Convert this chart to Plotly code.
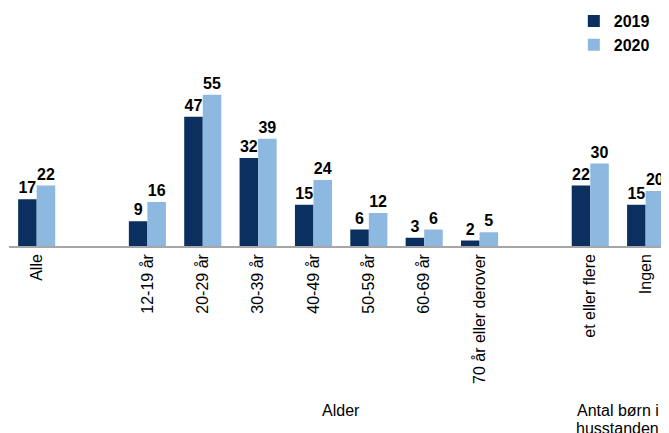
import plotly.graph_objects as go

categories = ["Alle", " ", "12-19 år", "20-29 år", "30-39 år", "40-49 år", "50-59 år",
              "60-69 år", "70 år eller derover", "  ", "et eller flere", "Ingen"]
v2019 = [17, None, 9, 47, 32, 15, 6, 3, 2, None, 22, 15]
v2020 = [22, None, 16, 55, 39, 24, 12, 6, 5, None, 30, 20]
series_names = ["2019", "2020"]
colors = ["#0B2F5F", "#8DB8E0"]
group_labels = [["Alder"], ["Antal børn i", "husstanden"]]
group_pos = [5.5, 10.5]

FONT = "Liberation Sans, Arial, sans-serif"
W, H = 661, 425
T, B = 73, 187
H_PLOT = H - T - B

fig = go.Figure()
for name, vals, col in zip(series_names, [v2019, v2020], colors):
    fig.add_trace(go.Bar(
        x=categories, y=vals, name=name, marker_color=col,
        marker_line_width=0,
        text=[("" if v is None else str(v)) for v in vals],
        textposition="outside", cliponaxis=False, constraintext="none",
        textfont=dict(family=FONT, size=16, color="#000000", weight="bold"),
    ))

for lines, pos in zip(group_labels, group_pos):
    for i, line in enumerate(lines):
        fig.add_annotation(x=pos, y=-(164 + 18 * i) / H_PLOT, xref="x", yref="paper",
                           text=line, showarrow=False, xanchor="center", yanchor="middle",
                           font=dict(family=FONT, size=16, color="#000000"))

fig.update_layout(
    width=W, height=H,
    margin=dict(l=1.35, r=4.4, t=T, b=B, pad=0, autoexpand=False),
    paper_bgcolor="white", plot_bgcolor="white",
    barmode="group", bargap=0.33, bargroupgap=0,
    showlegend=True,
    legend=dict(x=0.856, y=(T + 4) / H_PLOT + 1, xref="container", yref="paper",
                xanchor="left", yanchor="top",
                font=dict(family=FONT, size=16, color="#000000", weight="bold"),
                bgcolor="rgba(0,0,0,0)", tracegroupgap=0, itemwidth=30),
    xaxis=dict(type="category", categoryorder="array", categoryarray=categories,
               range=[-0.5, 11.35], tickangle=-90,
               tickfont=dict(family=FONT, size=16, color="#000000"),
               showline=True, linecolor="#A6A6A6", linewidth=1.5,
               showgrid=False, ticks="", fixedrange=True),
    yaxis=dict(range=[0, 60], visible=False, showgrid=False, zeroline=False),
)

fig.write_html("out.html")
